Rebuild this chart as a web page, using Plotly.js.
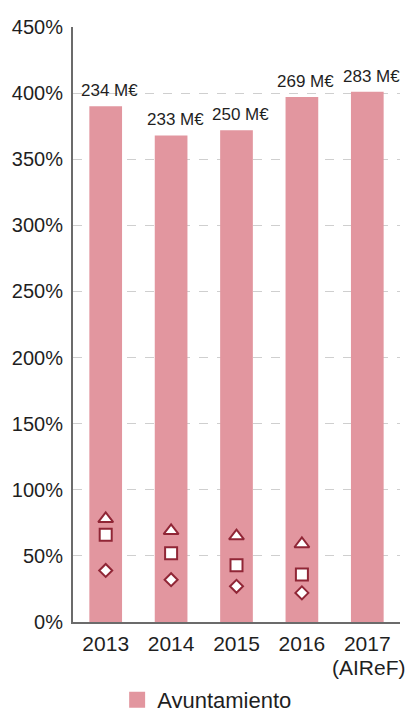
<!DOCTYPE html>
<html>
<head>
<meta charset="utf-8">
<script src="https://cdn.plot.ly/plotly-3.0.1.min.js"></script>
<style>
  html, body { margin: 0; padding: 0; background: #fff; }
  #chart { width: 414px; height: 708px; }
</style>
</head>
<body>
<div id="chart"></div>
<script>
// Years on the horizontal axis, with a sub-label under the forecast year
const years = [2013, 2014, 2015, 2016, 2017];
const yearLabels = ['2013', '2014', '2015', '2016', '2017'];
const yearNotes = ['', '', '', '', '(AIReF)'];

// Debt of the city council as % of current revenue
const ayuntamientoPct = [390, 368, 372, 397, 401];
// Debt volume stated above each bar
const debtLabels = ['234 M€', '233 M€', '250 M€', '269 M€', '283 M€'];

// Comparison markers (no data for 2017)
const triangleSeries = [78, 69, 65, 59, null];
const squareSeries = [66, 52, 43, 36, null];
const diamondSeries = [39, 32, 27, 22, null];

const FONT = 'Liberation Sans, Arial, sans-serif';
const TEXT = '#1f1f1f';
const BAR = '#E2969F';
const MARK = '#902636';

function markerTrace(values, symbol, size) {
  return {
    type: 'scatter',
    mode: 'markers',
    x: years,
    y: values,
    showlegend: false,
    hoverinfo: 'skip',
    marker: {
      symbol: symbol,
      size: size,
      color: '#ffffff',
      line: { color: MARK, width: 2 }
    }
  };
}

const traces = [
  {
    type: 'bar',
    name: 'Ayuntamiento',
    x: years,
    y: ayuntamientoPct,
    marker: { color: BAR },
    hoverinfo: 'skip'
  },
  markerTrace(triangleSeries, 'triangle-up', 13),
  markerTrace(squareSeries, 'square', 12),
  markerTrace(diamondSeries, 'diamond', 10)
];

const annotations = years.map((yr, i) => ({
  x: yr,
  y: ayuntamientoPct[i],
  xref: 'x',
  yref: 'y',
  text: debtLabels[i],
  showarrow: false,
  yanchor: 'bottom',
  xshift: 4,
  yshift: 4,
  font: { family: FONT, size: 17, color: TEXT }
}));

years.forEach((yr, i) => {
  if (!yearNotes[i]) return;
  annotations.push({
    x: yr,
    y: 0,
    xref: 'x',
    yref: 'paper',
    text: yearNotes[i],
    showarrow: false,
    yanchor: 'top',
    yshift: -32,
    xshift: 2,
    font: { family: FONT, size: 21, color: TEXT }
  });
});

const layout = {
  width: 414,
  height: 708,
  margin: { l: 73, r: 14, t: 27, b: 86, autoexpand: false },
  paper_bgcolor: '#ffffff',
  plot_bgcolor: '#ffffff',
  font: { family: FONT, color: TEXT },
  bargap: 0.5,
  showlegend: true,
  legend: {
    orientation: 'h',
    x: 0.135,
    xanchor: 'left',
    y: -0.131,
    yanchor: 'middle',
    font: { family: FONT, size: 22, color: TEXT },
    bgcolor: 'rgba(0,0,0,0)'
  },
  xaxis: {
    type: 'linear',
    range: [years[0] - 0.5, years[years.length - 1] + 0.5],
    tickmode: 'array',
    tickvals: years,
    ticktext: yearLabels,
    showline: true,
    linecolor: '#6b6b6b',
    linewidth: 2,
    ticks: '',
    showgrid: false,
    zeroline: false,
    tickfont: { family: FONT, size: 21, color: TEXT },
    ticklabelstandoff: 2
  },
  yaxis: {
    range: [0, 450],
    dtick: 50,
    tick0: 0,
    ticksuffix: '%',
    showline: true,
    linecolor: '#6b6b6b',
    linewidth: 2,
    ticks: '',
    showgrid: true,
    gridcolor: '#cfcfcf',
    gridwidth: 1,
    griddash: 'dash',
    zeroline: false,
    tickfont: { family: FONT, size: 20, color: TEXT },
    ticklabelstandoff: 4
  },
  annotations: annotations
};

Plotly.newPlot('chart', traces, layout, { displayModeBar: false, staticPlot: true }).then(() => {
  // Enlarge the legend swatch a bit, keeping its own placement
  document.querySelectorAll('.legend .legendpoints path').forEach(p => {
    const t = p.getAttribute('transform') || '';
    p.setAttribute('transform', (t + ' scale(1.33)').trim());
  });
});
</script>
</body>
</html>
